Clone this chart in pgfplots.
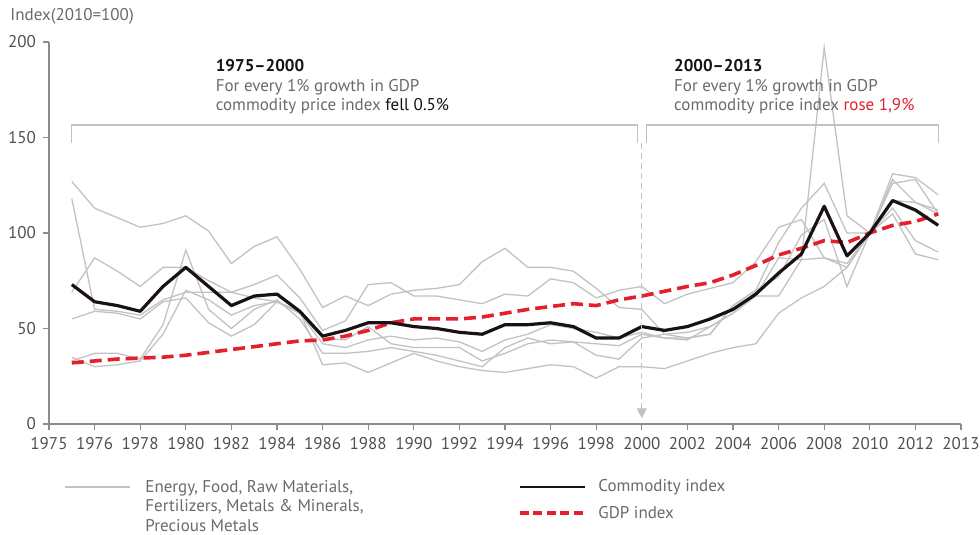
\documentclass[border=0pt]{standalone}
\usepackage{fontspec}
\setmainfont{PT Sans}
\usepackage{pgfplots}
\usepackage{pgfplotstable}
\pgfplotsset{compat=1.18}
\usetikzlibrary{arrows.meta}
\definecolor{grayline}{HTML}{C2C2C2}
\definecolor{axisgray}{HTML}{8C8C8C}
\definecolor{txtgray}{HTML}{6A6A6A}
\definecolor{tickgray}{HTML}{505050}
\definecolor{gdpred}{HTML}{E3202B}
\definecolor{comblack}{HTML}{1A1212}

% six commodity groups, commodity index, GDP index (2010=100)
\pgfplotstableread{
year s1  s2  s3  s4  s5  s6  com gdp
1975 127 69  118 33  55  35  73  32
1976 113 87  60  37  59  30  64  33
1977 108 80  59  37  58  31  62  34
1978 103 72  57  34  55  33  59  34.5
1979 105 82  65  52  64  47  72  35
1980 109 82  69  91  66  70  82  36
1981 101 75  69  60  53  65  72  37.5
1982 84  69  69  50  46  57  62  39
1983 93  73  66  60  52  62  67  40.5
1984 98  78  64  65  64  64  68  42
1985 81  66  58  55  58  59  59  43.5
1986 61  49  42  37  45  31  46  44
1987 67  54  40  37  44  32  49  46
1988 62  73  44  38  51  27  53  49
1989 68  74  46  40  42  32  53  53
1990 70  67  44  38  40  37  51  55
1991 71  67  45  36  40  33  50  55
1992 73  65  43  33  40  30  48  55
1993 85  63  38  30  33  28  47  56
1994 92  68  44  40  37  27  52  58
1995 82  67  47  45  42  29  52  60
1996 82  76  52  42  44  31  53  61.5
1997 80  74  50  43  43  30  51  63
1998 71  66  48  42  36  24  45  62
1999 61  70  45  41  34  30  45  65
2000 60  72  48  47  45  30  51  67
2001 47  63  45  45  47  29  49  69.5
2002 45  68  44  45  48  33  51  72
2003 47  71  51  47  51  37  55  74
2004 62  74  58  62  58  40  60  78
2005 70  85  67  70  67  42  68  83
2006 95  103 67  77  87  58  79  88.5
2007 113 107 86  99  86  66  89  92
2008 126 87  197 107 87  72  114 96
2009 100 82  109 72  84  82  88  95
2010 100 100 100 100 100 100 100 100
2011 131 126 117 113 110 128 117 104
2012 129 128 116 96  89  116 112 106
2013 120 110 112 90  86  110 104 110
}\data

\begin{document}
\begin{tikzpicture}
\begin{axis}[
  at={(0,0)}, anchor=south west,
  width=456pt, height=191pt, scale only axis,
  xmin=1974, xmax=2014, ymin=0, ymax=200,
  clip=false,
  axis x line*=bottom, axis y line*=left,
  axis line style={-, axisgray, line width=0.8pt},
  tick style={axisgray, line width=0.6pt},
  tick align=outside, major tick length=3pt,
  xtick={1974,1976,1978,1980,1982,1984,1986,1988,1990,1992,1994,1996,1998,2000,2002,2004,2006,2008,2010,2012,2014},
  xticklabels={1975,1976,1978,1980,1982,1984,1986,1988,1990,1992,1994,1996,1998,2000,2002,2004,2006,2008,2010,2012,2013},
  ytick={0,50,100,150,200},
  ticklabel style={font=\fontsize{8.5}{10}\selectfont, text=tickgray},
  /pgf/number format/assume math mode=true,
  /pgf/number format/1000 sep={},
]
\addplot[grayline, line width=0.65pt] table[x=year, y=s1] {\data};
\addplot[grayline, line width=0.65pt] table[x=year, y=s2] {\data};
\addplot[grayline, line width=0.65pt] table[x=year, y=s3] {\data};
\addplot[grayline, line width=0.65pt] table[x=year, y=s4] {\data};
\addplot[grayline, line width=0.65pt] table[x=year, y=s5] {\data};
\addplot[grayline, line width=0.65pt] table[x=year, y=s6] {\data};
\addplot[gdpred, line width=1.8pt, dash pattern=on 6pt off 3pt] table[x=year, y=gdp] {\data};
\addplot[comblack, line width=1.6pt, line join=round] table[x=year, y=com] {\data};

% period brackets and the 2000 divider
\draw[grayline, line width=0.7pt] (axis cs:1975,147) -- (axis cs:1975,156.5) -- (axis cs:1999.8,156.5) -- (axis cs:1999.8,147);
\draw[grayline, line width=0.7pt] (axis cs:2000.2,147) -- (axis cs:2000.2,156.5) -- (axis cs:2013,156.5) -- (axis cs:2013,147);
\draw[grayline, line width=0.6pt, dash pattern=on 3pt off 2pt, -{Triangle[width=5pt,length=5pt]}] (axis cs:2000,147) -- (axis cs:2000,3);

\node[anchor=north west, inner sep=0, align=left, font=\fontsize{8.5}{9.8}\selectfont] at (axis cs:1981.3,191)
  {{\bfseries\color{comblack}1975--2000}\\
   {\color{txtgray}For every 1\% growth in GDP}\\
   {\color{txtgray}commodity price index} {\color{comblack}fell 0.5\%}};
\node[anchor=north west, inner sep=0, align=left, font=\fontsize{8.5}{9.8}\selectfont] at (axis cs:2001.4,191)
  {{\bfseries\color{comblack}2000--2013}\\
   {\color{txtgray}For every 1\% growth in GDP}\\
   {\color{txtgray}commodity price index} {\color{gdpred}rose 1,9\%}};
\end{axis}

\node[anchor=west, inner sep=0, text=txtgray, font=\fontsize{8.5}{10}\selectfont] at (-19.5pt,204pt) {Index(2010=100)};

% legend
\draw[grayline, line width=0.7pt] (8pt,-31.5pt) -- (40.5pt,-31.5pt);
\node[anchor=north west, inner sep=0, align=left, text=txtgray, font=\fontsize{8.5}{9.7}\selectfont] at (48pt,-28pt)
  {Energy, Food, Raw Materials,\\Fertilizers, Metals \& Minerals,\\Precious Metals};
\draw[comblack, line width=1.1pt] (235.5pt,-31.5pt) -- (268pt,-31.5pt);
\node[anchor=west, inner sep=0, text=txtgray, font=\fontsize{8.5}{10}\selectfont] at (274.5pt,-31.5pt) {Commodity index};
\draw[gdpred, line width=1.8pt, dash pattern=on 4.5pt off 2.2pt] (235.5pt,-44.5pt) -- (268pt,-44.5pt);
\node[anchor=west, inner sep=0, text=txtgray, font=\fontsize{8.5}{10}\selectfont] at (274.5pt,-44.5pt) {GDP index};

\pgfresetboundingbox
\path (-24.5pt,-55.5pt) rectangle (465.5pt,212pt);
\end{tikzpicture}
\end{document}
